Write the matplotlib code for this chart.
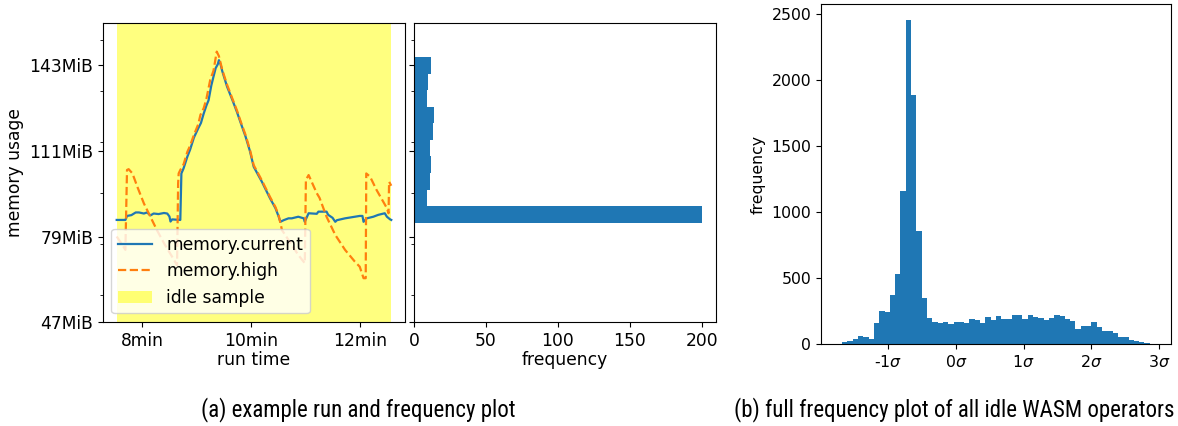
import numpy as np
import matplotlib
matplotlib.use("Agg")
import matplotlib.pyplot as plt
from matplotlib import font_manager

plt.rcParams["font.family"] = "DejaVu Sans"

# memory.current trace (minutes, MiB)
cur_t = [7.53, 7.69, 7.72, 7.80, 7.88, 7.94, 8.03, 8.09, 8.15, 8.21, 8.30, 8.40, 8.46, 8.50,
         8.52, 8.55, 8.70, 8.72, 8.76, 8.83, 8.88, 8.95, 9.03, 9.08, 9.13, 9.18, 9.22, 9.27,
         9.31, 9.35, 9.39, 9.41, 9.44, 9.47, 9.56, 9.65, 9.74, 9.82, 9.90, 9.98, 10.05, 10.20,
         10.35, 10.45, 10.51, 10.54, 10.60, 10.69, 10.75, 10.87, 10.97, 10.99, 11.01, 11.06,
         11.21, 11.24, 11.39, 11.42, 11.50, 11.55, 11.58, 11.73, 11.91, 12.00, 12.05, 12.07,
         12.13, 12.25, 12.34, 12.46, 12.50, 12.56, 12.58]
cur_v = [85.2, 85.2, 86.7, 87.0, 88.0, 88.0, 87.6, 88.0, 86.9, 87.6, 87.4, 87.8, 87.6, 86.5,
         84.6, 85.4, 85.2, 102.6, 104.5, 108.9, 111.5, 116.0, 119.5, 121.5, 125.0, 128.0, 130.0, 135.5,
         138.8, 142.0, 143.5, 145.0, 143.5, 141.0, 135.1, 130.5, 125.7, 121.0, 116.4, 111.0, 105.1, 99.5,
         93.3, 89.6, 86.4, 84.5, 85.1, 85.8, 85.8, 86.4, 85.8, 84.5, 85.5, 87.7,
         87.5, 88.3, 88.3, 87.1, 86.0, 84.5, 85.1, 85.8, 86.4, 86.7, 86.7, 84.5,
         85.8, 86.4, 87.1, 87.7, 86.4, 85.4, 85.2]

# memory.high trace (minutes, MiB)
high_t = [7.53, 7.63, 7.69, 7.72, 7.75, 7.82, 7.91, 8.03, 8.15, 8.27, 8.40, 8.55, 8.64, 8.66,
          8.67, 8.70, 8.76, 8.83, 8.88, 8.95, 9.03, 9.07, 9.13, 9.18, 9.25, 9.31, 9.37, 9.41,
          9.47, 9.56, 9.65, 9.74, 9.82, 9.90, 9.98, 10.05, 10.20, 10.35, 10.45, 10.51, 10.57,
          10.69, 10.87, 10.99, 11.01, 11.06, 11.21, 11.26, 11.39, 11.55, 11.73, 11.91, 12.00,
          12.07, 12.11, 12.12, 12.19, 12.31, 12.50, 12.53, 12.54, 12.58]
high_v = [79.0, 76.0, 74.0, 103.9, 104.2, 102.6, 97.6, 91.4, 86.4, 81.4, 76.5, 71.4, 68.3, 98.9,
          102.6, 103.9, 106.0, 110.7, 113.0, 117.0, 121.0, 124.5, 127.0, 130.5, 137.6, 141.0, 148.2, 146.5,
          141.5, 135.8, 131.0, 126.3, 121.5, 117.0, 111.5, 105.7, 100.0, 93.8, 90.0, 86.8, 81.4,
          77.7, 72.1, 69.0, 100.2, 102.0, 95.2, 93.5, 86.4, 79.6, 74.0, 69.6, 67.7,
          63.4, 63.4, 102.6, 101.4, 96.4, 89.6, 87.7, 99.5, 98.0]

idle_start, idle_end = 7.53, 12.58

# frequency of memory.current (bottom bin to top bin)
mid_counts = [200, 9, 11, 12, 11, 13, 14, 9, 10, 12]
mid_lo, mid_hi = 84.2, 146.1

# all idle WASM operators, 60 bins in sigma units
all_counts = [3, 12, 20, 40, 63, 56, 40, 157, 253, 245, 369, 533, 1162, 2455, 1889, 859, 351,
              199, 169, 162, 169, 154, 169, 169, 162, 192, 184, 162, 207, 184, 215, 192, 192,
              222, 222, 192, 222, 207, 199, 184, 199, 222, 215, 192, 177, 116, 139, 139, 169,
              131, 101, 101, 86, 56, 56, 33, 23, 15, 8, 3]
all_lo, all_hi = -1.76, 2.94

mib_ticks = [47, 79, 111, 143]
sigma_ticks = [-1, 0, 1, 2, 3]

fs = 12.3
fig = plt.figure(figsize=(11.78, 4.26), dpi=100)
ax1 = fig.add_axes([0.0874, 0.2441, 0.2564, 0.7019])
ax2 = fig.add_axes([0.3514, 0.2441, 0.2564, 0.7019], sharey=ax1)
ax3 = fig.add_axes([0.6969, 0.1925, 0.2971, 0.7981])

ax1.plot(cur_t, cur_v, color="C0", linewidth=1.6, label="memory.current")
ax1.plot(high_t, high_v, color="C1", linestyle="--", linewidth=1.6, label="memory.high")
ax1.axvspan(idle_start, idle_end, color="yellow", alpha=0.5, lw=0, label="idle sample")
ax1.set_xticks([8, 10, 12])
ax1.set_xticklabels(["8min", "10min", "12min"], fontsize=fs)
ax1.set_yticks(mib_ticks)
ax1.set_yticklabels([f"{v}MiB" for v in mib_ticks], fontsize=fs)
ax1.set_yticks(np.array([60e6, 80e6, 100e6, 120e6, 140e6, 160e6]) / 2**20, minor=True)
ax1.set_ylim(47, 158.9)
ax1.set_xlabel("run time", fontsize=fs, labelpad=1)
ax1.set_ylabel("memory usage", fontsize=fs)
ax1.legend(loc="lower left", fontsize=fs)

edges = np.linspace(mid_lo, mid_hi, len(mid_counts) + 1)
ax2.hist(edges[:-1], bins=edges, weights=mid_counts, orientation="horizontal", color="C0")
ax2.tick_params(labelleft=False)
ax2.set_xticks([0, 50, 100, 150, 200])
ax2.tick_params(axis="x", labelsize=fs)
ax2.set_xlabel("frequency", fontsize=fs, labelpad=1)

fs3 = 11.3
edges3 = np.linspace(all_lo, all_hi, len(all_counts) + 1)
ax3.hist(edges3[:-1], bins=edges3, weights=all_counts, color="C0")
ax3.set_xticks(sigma_ticks)
ax3.set_xticklabels([f"{v}$\\sigma$" for v in sigma_ticks], fontsize=fs3)
ax3.set_yticks([0, 500, 1000, 1500, 2000, 2500])
ax3.tick_params(axis="y", labelsize=fs3)
ax3.set_ylabel("frequency", fontsize=fs3)

# pick a narrow family for the captions if one is installed
installed = {f.name for f in font_manager.fontManager.ttflist}
cap_family = "DejaVu Sans"
cap_size = 13
for name, size in [("Roboto Condensed", 16.5), ("Liberation Sans Narrow", 16),
                   ("DejaVu Sans Condensed", 13.5), ("Open Sans Condensed", 16),
                   ("Roboto", 14.5)]:
    if name in installed:
        cap_family, cap_size = name, size
        break

fig.text(0.304, 0.038, "(a) example run and frequency plot", ha="center", va="center",
         fontsize=cap_size, family=cap_family)
fig.text(0.81, 0.038, "(b) full frequency plot of all idle WASM operators", ha="center",
         va="center", fontsize=cap_size, family=cap_family)

fig.savefig("out.png", dpi=100)
